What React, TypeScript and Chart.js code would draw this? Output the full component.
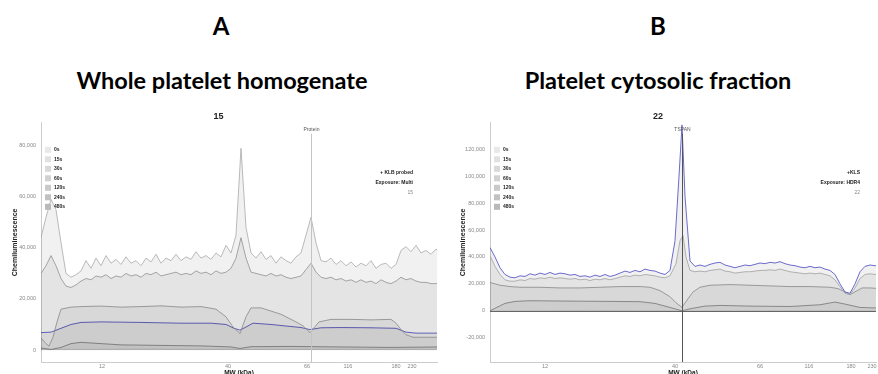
import React, { useEffect, useRef } from "react";
import { Chart, registerables } from "chart.js";

Chart.register(...registerables);

// ---------- shared labels ----------
const LEGEND_LABELS = ["0s", "15s", "30s", "60s", "120s", "240s", "480s"];
const LEGEND_BOX_COLORS = ["#e8e8e8", "#e1e1e1", "#d9d9d9", "#d1d1d1", "#c9c9c9", "#c1c1c1", "#b9b9b9"];
const MW_LABELS = ["12", "40", "66", "116", "180", "230"];

// ---------- Panel A : whole platelet homogenate ----------
const A_MW_POS = [61, 187, 266, 307, 355, 371];
const A_Y_TICKS = [0, 20000, 40000, 60000, 80000];
const A_GRID_X = Array.from({ length: 81 }, (_, i) => i * 5);
const A_0S = [44000, 52000, 59000, 55000, 42000, 30000, 28500, 29500, 31000, 35000,
  32000, 36000, 33000, 37000, 34000, 35500, 33500, 36500, 34000, 35000,
  33000, 36000, 34500, 37500, 34000, 36000, 35000, 37500, 35000, 36500,
  35500, 38500, 36000, 37000, 35500, 38000, 36500, 41000, 38000, 45000,
  79000, 48000, 38000, 36000, 38500, 35500, 37000, 34000, 36500, 35000,
  34000, 36500, 38000, 45000, 52000, 42000, 35000, 34500, 36000, 33500,
  35000, 33000, 34500, 32500, 34000, 33000, 35000, 32000, 33500, 34000,
  32000, 33500, 39000, 40500, 38500, 41000, 38000, 39000, 37500, 39500,
  38000];
const A_15S = [30000, 33000, 37000, 33000, 28000, 25000, 24500, 25500, 27000, 28000,
  27500, 29000, 28500, 29500, 28000, 29000, 28500, 30000, 29000, 29500,
  28500, 30000, 29500, 30500, 29000, 29500, 30000, 30500, 29500, 30000,
  29500, 31000, 30000, 30500, 29500, 31000, 30000, 30500, 32000, 36000,
  44000, 36000, 30500, 30000, 29500, 29000, 30000, 29000, 29500, 28500,
  28000, 28500, 29000, 31500, 34000, 30500, 28500, 28000, 28500, 27500,
  28000, 27000, 27500, 26500, 27500, 26500, 27000, 26000, 27500, 26500,
  26000, 27000, 28500, 27500, 28000, 27000, 26500, 26500, 26000, 26000,
  26000];
const A_30S_X = [0, 5, 8, 12, 16, 20, 30, 40, 60, 80, 100, 120, 140, 160, 175, 185, 192, 199, 205, 210, 220, 240, 255, 262, 269, 278, 290, 310, 330, 350, 355, 360, 365, 372, 380, 400];
const A_30S = [4700, 2500, 1500, 5000, 11000, 16000, 16800, 17000, 17200, 16800, 17000, 17300, 16800, 17000, 16000, 13000, 9000, 6500, 13000, 16500, 16500, 14000, 11000, 9500, 6800, 11000, 12000, 12000, 11800, 12000, 10500, 8000, 6000, 5000, 5000, 5000];
const A_60S_X = [0, 10, 20, 30, 40, 60, 100, 140, 170, 185, 193, 199, 205, 212, 230, 260, 269, 280, 300, 330, 355, 365, 375, 400];
const A_60S = [6800, 7000, 8500, 10000, 10800, 11000, 10800, 10500, 10500, 10000, 8500, 7800, 9000, 10500, 10000, 8800, 8000, 8700, 8800, 8700, 8500, 7000, 6600, 6600];
const A_120S_X = [0, 10, 20, 30, 40, 60, 80, 120, 160, 190, 199, 210, 250, 300, 350, 400];
const A_120S = [800, 200, 1000, 2500, 3000, 2500, 2000, 1800, 1600, 1200, 600, 1300, 1400, 1200, 1000, 1200];
const A_240S_X = [0, 100, 200, 300, 400];
const A_240S = [300, 500, 300, 400, 400];
const A_480S_X = [0, 200, 400];
const A_480S = [0, 100, 0];

// ---------- Panel B : platelet cytosolic fraction ----------
const B_MW_POS = [55, 185, 270, 319, 361, 382];
const B_Y_TICKS = [-20000, 0, 20000, 40000, 60000, 80000, 100000, 120000];
const B_0S_X = [0, 5, 10, 15, 20, 25, 30, 35, 40, 45, 50, 55, 60, 65, 70, 75, 80, 85, 90, 95, 100, 105, 110, 115, 120, 125, 130, 135, 140, 145, 150, 155, 160, 165, 170, 175, 180,
  185, 189, 192, 195,
  200, 205, 210, 215, 220, 225, 230, 235, 240, 245, 250, 255, 260, 265, 270, 275, 280, 285, 290, 295, 300, 305, 310, 315, 320, 325, 330, 335, 340, 345, 350, 355, 360, 365, 370, 375, 380, 385, 390];
const B_0S = [47000, 40000, 32000, 27000, 25000, 24500, 26000, 25500, 27500, 26500, 28000, 27000, 28500, 27000, 28000, 27500, 26500, 27000, 25500, 26000, 25000, 26500, 25500, 27000, 25500, 26500, 28000, 29500, 28500, 30000, 29000, 31000, 30000, 29500, 28000, 27000, 30000,
  52000, 100000, 138000, 85000,
  37000, 33000, 34000, 33000, 34500, 35500, 36000, 34000, 33000, 32000, 33000, 34000, 33500, 34500, 35500, 35000, 36000, 35500, 36500, 35000, 34000, 33500, 32500, 32000, 33000, 32000, 32500, 31000, 30000, 27000, 20000, 14000, 13000, 20000, 29000, 33000, 34000, 33500, 33000];
const B_15S_X = [0, 5, 10, 15, 20, 25, 30, 35, 40, 45, 50, 55, 60, 65, 70, 75, 80, 85, 90, 95, 100, 105, 110, 115, 120, 125, 130, 135, 140, 145, 150, 155, 160, 165, 170, 175, 180,
  186, 190, 193, 196,
  200, 205, 210, 215, 220, 225, 230, 235, 240, 245, 250, 255, 260, 265, 270, 275, 280, 285, 290, 295, 300, 305, 310, 315, 320, 325, 330, 335, 340, 345, 350, 355, 360, 365, 370, 375, 380, 385, 390];
const B_15S = [41000, 33000, 27000, 23000, 22000, 22000, 23000, 22500, 24000, 23500, 24500, 24000, 25000, 24000, 24500, 24000, 23500, 24000, 23000, 23500, 22500, 23500, 23000, 24000, 23000, 24000, 25000, 26000, 25500, 26500, 26000, 27000, 26500, 26000, 25000, 24500, 26000,
  35000, 52000, 56000, 40000,
  30000, 29000, 29500, 29000, 30000, 30500, 31000, 29500, 29000, 28000, 28500, 29000, 29000, 29500, 30000, 30000, 30500, 30000, 31000, 30000, 29000, 28500, 28000, 27500, 28000, 27500, 28000, 27000, 26000, 23000, 18000, 13000, 12000, 17000, 24000, 27000, 27500, 27000, 27000];
const B_30S_X = [0, 10, 20, 30, 50, 70, 90, 110, 130, 150, 160, 170, 180, 186, 192, 197, 203, 210, 220, 240, 260, 280, 300, 320, 340, 348, 355, 360, 366, 372, 380, 390];
const B_30S = [21000, 19000, 18000, 17500, 17500, 17000, 17000, 17500, 18000, 18000, 17500, 15000, 10500, 6000, 2500, 8000, 14000, 17500, 19000, 19500, 19000, 18500, 18000, 18000, 17500, 16500, 14000, 12000, 14500, 17000, 17000, 16500];
const B_60S_X = [0, 8, 15, 25, 40, 80, 120, 150, 165, 175, 185, 192, 200, 215, 230, 260, 300, 330, 345, 355, 370, 390];
const B_60S = [0, 3000, 5500, 7000, 7500, 7200, 7000, 6800, 5500, 3500, 1500, 0, 1500, 3500, 4000, 3500, 3200, 4500, 6500, 5000, 2500, 2000];
const B_120S_X = [0, 100, 200, 300, 390];
const B_120S = [0, 400, 0, 300, 200];
const B_240S_X = [0, 200, 390];
const B_240S = [0, 100, 0];
const B_480S_X = [0, 390];
const B_480S = [0, 0];

const FONT = "'Liberation Sans', Arial, sans-serif";
const FILL = "rgba(0,0,0,0.055)";

type Series = { x: number[]; y: number[]; line: string; width: number };
type Panel = {
  title: string;
  series: Series[];
  xMax: number;
  yMin: number;
  yMax: number;
  yTicks: number[];
  mwPos: number[];
  yAxisWidth: number;
  yTitlePad: number;
  padRight: number;
  marker: { x: number; label: string; color: string };
  zeroLine: string | null;
  notes: string[];
  notesInset: number;
};

const PANEL_A: Panel = {
  title: "15",
  series: [
    { x: A_GRID_X, y: A_0S, line: "#a8a8a8", width: 0.8 },
    { x: A_GRID_X, y: A_15S, line: "#989898", width: 0.8 },
    { x: A_30S_X, y: A_30S, line: "#979797", width: 0.8 },
    { x: A_60S_X, y: A_60S, line: "#5a5ac8", width: 0.9 },
    { x: A_120S_X, y: A_120S, line: "#8a8a8a", width: 0.8 },
    { x: A_240S_X, y: A_240S, line: "rgba(0,0,0,0.12)", width: 0.5 },
    { x: A_480S_X, y: A_480S, line: "rgba(0,0,0,0.12)", width: 0.5 },
  ],
  xMax: 396,
  yMin: -4700,
  yMax: 89000,
  yTicks: A_Y_TICKS,
  mwPos: A_MW_POS,
  yAxisWidth: 41,
  yTitlePad: 11,
  padRight: 3,
  marker: { x: 270, label: "Protein", color: "#c4c4c4" },
  zeroLine: null,
  notes: ["+ KLB probed", "Exposure: Multi", "15"],
  notesInset: 24,
};

const PANEL_B: Panel = {
  title: "22",
  series: [
    { x: B_0S_X, y: B_0S, line: "#5a5ac8", width: 0.9 },
    { x: B_15S_X, y: B_15S, line: "#a8a8a8", width: 0.8 },
    { x: B_30S_X, y: B_30S, line: "#979797", width: 0.8 },
    { x: B_60S_X, y: B_60S, line: "#8a8a8a", width: 0.8 },
    { x: B_120S_X, y: B_120S, line: "rgba(0,0,0,0.12)", width: 0.5 },
    { x: B_240S_X, y: B_240S, line: "rgba(0,0,0,0.12)", width: 0.5 },
    { x: B_480S_X, y: B_480S, line: "rgba(0,0,0,0.12)", width: 0.5 },
  ],
  xMax: 386,
  yMin: -38000,
  yMax: 139600,
  yTicks: B_Y_TICKS,
  mwPos: B_MW_POS,
  yAxisWidth: 50,
  yTitlePad: 19,
  padRight: 2,
  marker: { x: 192, label: "TSPAN", color: "#555555" },
  zeroLine: "#666666",
  notes: ["+KLS", "Exposure: HDR4", "22"],
  notesInset: 16,
};

const overlayPlugin = {
  id: "overlay",
  afterDatasetsDraw(chart: any, _args: any, opts: any) {
    const { ctx, chartArea } = chart;
    const xs = chart.scales.x;
    const ys = chart.scales.y;
    ctx.save();
    if (opts.zeroLine) {
      const y0 = Math.round(ys.getPixelForValue(0)) + 0.5;
      ctx.strokeStyle = opts.zeroLine;
      ctx.lineWidth = 1;
      ctx.beginPath();
      ctx.moveTo(chartArea.left, y0);
      ctx.lineTo(chartArea.right, y0);
      ctx.stroke();
    }
    const mx = Math.round(xs.getPixelForValue(opts.marker.x)) + 0.5;
    ctx.strokeStyle = opts.marker.color;
    ctx.lineWidth = 1;
    ctx.beginPath();
    ctx.moveTo(mx, chartArea.top + 11);
    ctx.lineTo(mx, chartArea.bottom);
    ctx.stroke();
    ctx.fillStyle = "#555";
    ctx.font = `5px ${FONT}`;
    ctx.textAlign = "center";
    ctx.textBaseline = "middle";
    ctx.fillText(opts.marker.label, mx, chartArea.top + 7);
    ctx.textAlign = "left";
    LEGEND_LABELS.forEach((lab, i) => {
      const cy = chartArea.top + 27 + i * 9.5;
      ctx.fillStyle = LEGEND_BOX_COLORS[i];
      ctx.fillRect(chartArea.left + 4, cy - 3, 6, 6);
      ctx.fillStyle = "#222";
      ctx.font = `bold 5px ${FONT}`;
      ctx.fillText(lab, chartArea.left + 13, cy);
    });
    ctx.textAlign = "right";
    opts.notes.forEach((t: string, i: number) => {
      ctx.fillStyle = i < 2 ? "#222" : "#888";
      ctx.font = i < 2 ? `bold 5px ${FONT}` : `5px ${FONT}`;
      ctx.fillText(t, chartArea.right - opts.notesInset, chartArea.top + 50 + i * 10);
    });
    ctx.restore();
  },
};

function makeConfig(p: Panel): any {
  return {
    type: "line",
    data: {
      datasets: p.series.map((s, i) => ({
        label: LEGEND_LABELS[i],
        data: s.x.map((x, j) => ({ x, y: s.y[j] })),
        borderColor: s.line,
        borderWidth: s.width,
        backgroundColor: FILL,
        fill: "origin",
        pointRadius: 0,
        tension: 0,
      })),
    },
    plugins: [overlayPlugin],
    options: {
      animation: false,
      responsive: false,
      maintainAspectRatio: false,
      devicePixelRatio: 1,
      events: [],
      layout: { padding: { left: 0, right: p.padRight, top: 0, bottom: 0 } },
      plugins: {
        legend: { display: false },
        tooltip: { enabled: false },
        title: {
          display: true,
          text: p.title,
          color: "#222",
          font: { family: FONT, size: 9, weight: "bold" },
          padding: { top: 6, bottom: 1 },
        },
        overlay: {
          marker: p.marker,
          zeroLine: p.zeroLine,
          notes: p.notes,
          notesInset: p.notesInset,
        },
      },
      scales: {
        x: {
          type: "linear",
          min: 0,
          max: p.xMax,
          afterBuildTicks: (s: any) => {
            s.ticks = p.mwPos.map((v) => ({ value: v }));
          },
          afterFit: (s: any) => {
            s.height = 20;
          },
          ticks: {
            source: "data",
            autoSkip: false,
            maxRotation: 0,
            padding: 1,
            color: "#888",
            font: { family: FONT, size: 5.5 },
            callback: (v: number) => {
              const i = p.mwPos.indexOf(v);
              return i >= 0 ? MW_LABELS[i] : "";
            },
          },
          grid: { display: false, drawTicks: false },
          border: { color: "#cccccc", width: 1 },
          title: {
            display: true,
            text: "MW (kDa)",
            color: "#222",
            font: { family: FONT, size: 6.5, weight: "bold" },
            padding: { top: 0, bottom: 4.8 },
          },
        },
        y: {
          type: "linear",
          min: p.yMin,
          max: p.yMax,
          afterBuildTicks: (s: any) => {
            s.ticks = p.yTicks.map((v) => ({ value: v }));
          },
          afterFit: (s: any) => {
            s.width = p.yAxisWidth;
          },
          ticks: {
            source: "data",
            autoSkip: false,
            padding: 5,
            color: "#888",
            font: { family: FONT, size: 5.5 },
            callback: (v: number) => v.toLocaleString("en-US"),
          },
          grid: { display: false, drawTicks: false },
          border: { color: "#cccccc", width: 1 },
          title: {
            display: true,
            text: "Chemiluminescence",
            color: "#222",
            font: { family: FONT, size: 7, weight: "bold" },
            padding: { top: p.yTitlePad, bottom: 0 },
          },
        },
      },
    },
  };
}

function PanelChart({ panel, left, width }: { panel: Panel; left: number; width: number }) {
  const ref = useRef<HTMLCanvasElement | null>(null);
  useEffect(() => {
    if (!ref.current) return;
    const chart = new Chart(ref.current, makeConfig(panel));
    return () => chart.destroy();
  }, [panel]);
  return (
    <canvas
      ref={ref}
      width={width}
      height={277}
      style={{ position: "absolute", left, top: 105, width, height: 277 }}
    />
  );
}

const headStyle = (cx: number, cy: number, size: number): React.CSSProperties => ({
  position: "absolute",
  left: cx - 250,
  width: 500,
  top: cy - size * 0.7,
  textAlign: "center",
  fontFamily: "Lato, 'Open Sans', sans-serif",
  fontWeight: 700,
  fontSize: size,
  lineHeight: `${size * 1.4}px`,
  color: "#000",
  whiteSpace: "nowrap",
});

export default function App() {
  return (
    <div
      style={{
        position: "absolute",
        left: 0,
        top: 0,
        width: 878,
        height: 374,
        overflow: "hidden",
        background: "#fff",
      }}
    >
      <div style={headStyle(221, 26, 24)}>A</div>
      <div style={headStyle(222, 80, 23.5)}>Whole platelet homogenate</div>
      <div style={headStyle(658, 26, 24)}>B</div>
      <div style={headStyle(658, 80, 23.5)}>Platelet cytosolic fraction</div>
      <PanelChart panel={PANEL_A} left={0} width={440} />
      <PanelChart panel={PANEL_B} left={440} width={438} />
    </div>
  );
}
